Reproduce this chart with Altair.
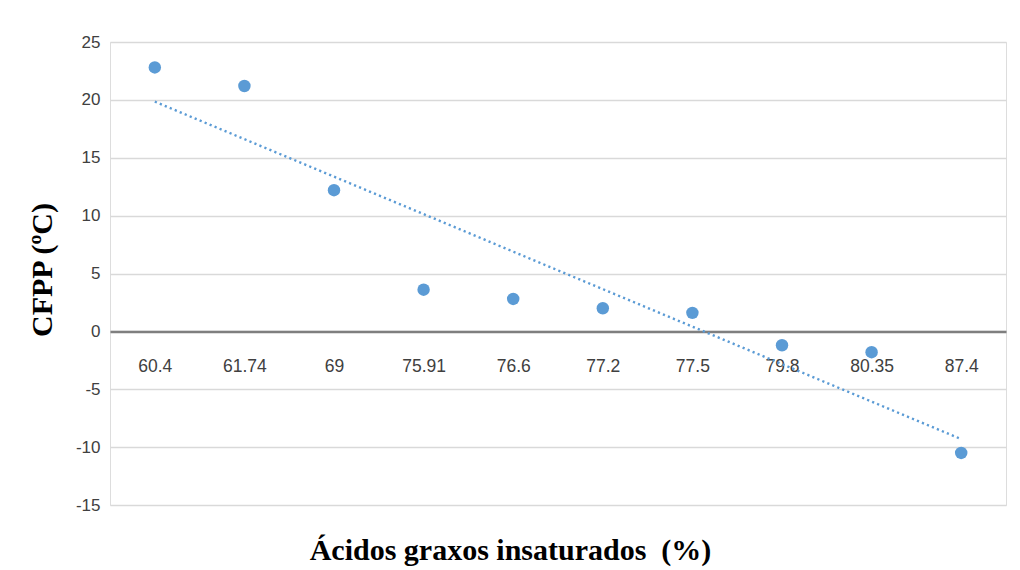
import json
import altair as alt
import pandas as pd

categories = ["60.4", "61.74", "69", "75.91", "76.6", "77.2", "77.5", "79.8", "80.35", "87.4"]
cfpp = [22.8, 21.2, 12.2, 3.6, 2.8, 2.0, 1.6, -1.2, -1.8, -10.5]
y_ticks = [-15, -10, -5, 0, 5, 10, 15, 20, 25]

df = pd.DataFrame({"idx": list(range(len(categories))), "cat": categories, "cfpp": cfpp})

label_expr = json.dumps(categories) + "[datum.value]"

W, H = 896, 463
y_min, y_max = -15, 25
zero_offset = -H * (0 - y_min) / (y_max - y_min)

x_enc = alt.X(
    "idx:Q",
    scale=alt.Scale(domain=[-0.5, len(categories) - 0.5], nice=False, zero=False),
    axis=alt.Axis(
        values=list(range(len(categories))),
        labelExpr=label_expr,
        offset=zero_offset,
        domain=True,
        domainColor="#7f7f7f",
        domainWidth=2.5,
        ticks=False,
        grid=False,
        labelPadding=26,
        labelFont="Liberation Sans",
        labelFontSize=17.5,
        labelColor="#404040",
        title="Ácidos graxos insaturados\u00a0 (%)",
        titleFont="Liberation Serif",
        titleFontSize=30,
        titleFontWeight="bold",
        titleColor="#000000",
        titleBaseline="alphabetic",
        titleX=400,
        titleY=228,
        titleAlign="center",
    ),
)

y_enc = alt.Y(
    "cfpp:Q",
    scale=alt.Scale(domain=[y_min, y_max], nice=False),
    axis=alt.Axis(
        values=y_ticks,
        labelExpr="'' + datum.value",
        domain=False,
        ticks=False,
        grid=True,
        gridColor="#d9d9d9",
        gridWidth=1.5,
        labelPadding=10,
        labelFont="Liberation Sans",
        labelFontSize=17,
        labelColor="#404040",
        title="CFPP (ºC)",
        titleFont="Liberation Serif",
        titleFontSize=30,
        titleFontWeight="bold",
        titleColor="#000000",
        titleX=-53,
        titleY=H / 2 - 4,
    ),
)

base = alt.Chart(df)

trend = base.transform_regression("idx", "cfpp").mark_line(
    color="#5B9BD5", strokeWidth=2.4, strokeDash=[2.2, 3.2]
).encode(x=x_enc, y=y_enc)

points = base.mark_circle(size=155, color="#5B9BD5", opacity=1).encode(x=x_enc, y=y_enc)

chart = (
    alt.layer(trend, points)
    .properties(
        width=W,
        height=H,
        autosize=alt.AutoSizeParams(type="none"),
        padding={"left": 102, "top": 34, "right": 6, "bottom": 66},
    )
    .configure_view(stroke=None)
    .configure(background="white")
)

chart.save("out.html", embed_options={"renderer": "svg", "actions": False})
